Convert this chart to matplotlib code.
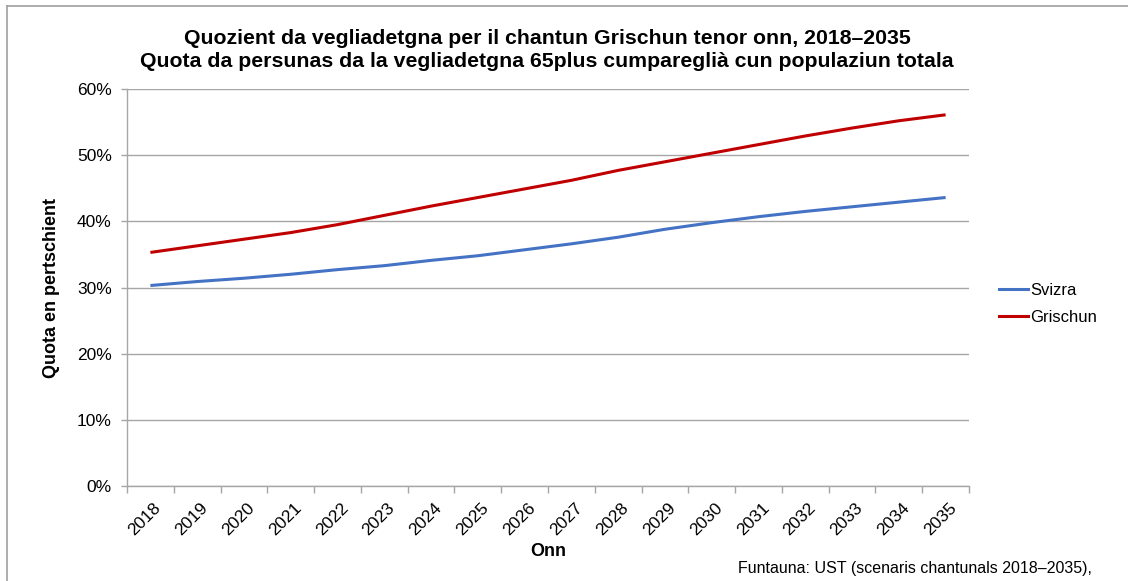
import matplotlib
matplotlib.use("Agg")
import matplotlib.pyplot as plt
from matplotlib.lines import Line2D
from matplotlib.ticker import FuncFormatter
from matplotlib.transforms import ScaledTranslation

years = [str(y) for y in range(2018, 2036)]
svizra = [30.3, 30.9, 31.4, 32.0, 32.7, 33.3, 34.1, 34.8, 35.7, 36.6,
          37.6, 38.8, 39.8, 40.7, 41.5, 42.2, 42.9, 43.6]
grischun = [35.3, 36.3, 37.3, 38.3, 39.5, 40.9, 42.3, 43.6, 44.9, 46.2,
            47.7, 49.0, 50.3, 51.6, 52.9, 54.1, 55.2, 56.1]
yticks = [0, 10, 20, 30, 40, 50, 60]

plt.rcParams['font.family'] = ['Liberation Sans', 'DejaVu Sans']

fig = plt.figure(figsize=(11.28, 5.81), dpi=100)
W, H = 1128, 581
ax = fig.add_axes([127 / W, 1 - 486 / H, (969 - 127) / W, (486 - 89) / H])

x = list(range(len(years)))
ax.plot(x, svizra, color='#4472C4', lw=2.2, solid_capstyle='butt', label='Svizra')
ax.plot(x, grischun, color='#C00000', lw=2.2, solid_capstyle='butt', label='Grischun')

ax.set_xlim(-0.5, len(years) - 0.5)
ax.set_ylim(0, 60)
ax.set_yticks(yticks)
ax.yaxis.set_major_formatter(FuncFormatter(lambda v, p: f"{v:.0f}%"))
ax.set_xticks(x)
ax.set_xticklabels(years, rotation=45, ha='right', rotation_mode='anchor', fontsize=12.5)
ax.tick_params(axis='x', length=0, pad=10)
offset = ScaledTranslation(3 / 100, 0, fig.dpi_scale_trans)
for lab in ax.get_xticklabels():
    lab.set_transform(lab.get_transform() + offset)
ax.set_xticks([i - 0.5 for i in range(len(years) + 1)], minor=True)
ax.tick_params(axis='x', which='minor', length=5, color='#a6a6a6', width=1)
ax.tick_params(axis='y', length=4, color='#a6a6a6', width=1, labelsize=12.5, pad=7)

ax.grid(axis='y', color='#a6a6a6', lw=1)
ax.set_axisbelow(True)
for s in ['top', 'right']:
    ax.spines[s].set_visible(False)
for s in ['left', 'bottom']:
    ax.spines[s].set_color('#a6a6a6')
    ax.spines[s].set_linewidth(1)

ax.set_ylabel('Quota en pertschient', fontsize=13, fontweight='bold')
ax.yaxis.set_label_coords((52 - 127) / (969 - 127), 0.5)
ax.set_xlabel('Onn', fontsize=13, fontweight='bold')
ax.xaxis.set_label_coords(0.5, -(551 - 486) / (486 - 89))
ax.xaxis.label.set_va('center')
ax.yaxis.label.set_va('center')

fig.text(547 / W, 1 - 50 / H,
         'Quozient da vegliadetgna per il chantun Grischun tenor onn, 2018–2035\n'
         'Quota da persunas da la vegliadetgna 65plus cumpareglià cun populaziun totala',
         ha='center', va='center', fontsize=15.3, fontweight='bold', linespacing=1.3)

handles = [Line2D([], [], color='#4472C4', lw=2.2), Line2D([], [], color='#C00000', lw=2.2)]
fig.legend(handles, ['Svizra', 'Grischun'], loc='center left',
           bbox_to_anchor=(984 / W, 1 - 304 / H), frameon=False, fontsize=12,
           handlelength=1.75, handletextpad=0.1, labelspacing=0.72)

fig.text(738 / W, 1 - 569 / H, 'Funtauna: UST (scenaris chantunals 2018–2035),',
         ha='left', va='center', fontsize=11.5)

# outer chart border (cropped)
fig.add_artist(Line2D([7 / W, 1], [1 - 6 / H, 1 - 6 / H], transform=fig.transFigure,
                      color='#a0a0a0', lw=1.2))
fig.add_artist(Line2D([7 / W, 7 / W], [0, 1 - 6 / H], transform=fig.transFigure,
                      color='#a0a0a0', lw=1.2))

fig.savefig('out.png', dpi=100)
